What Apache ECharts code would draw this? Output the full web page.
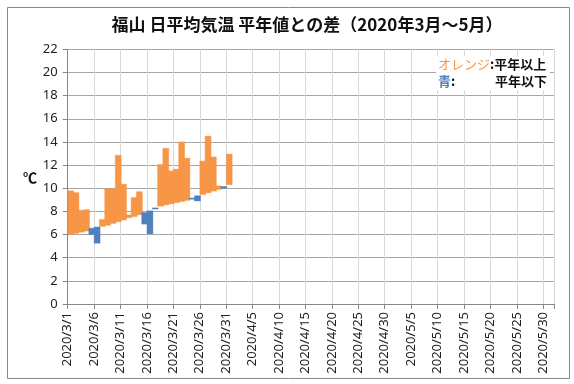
<!DOCTYPE html>
<html>
<head>
<meta charset="utf-8">
<script src="https://cdn.jsdelivr.net/npm/echarts@6/dist/echarts.min.js"></script>
<style>
html,body{margin:0;padding:0;background:#fff;}
#chart{width:574px;height:384px;}
</style>
</head>
<body>
<div id="chart"></div>
<script>
// Days with data (2020/3/1 .. 2020/3/31)
const days = ['2020/3/1','2020/3/2','2020/3/3','2020/3/4','2020/3/5','2020/3/6','2020/3/7','2020/3/8','2020/3/9','2020/3/10',
  '2020/3/11','2020/3/12','2020/3/13','2020/3/14','2020/3/15','2020/3/16','2020/3/17','2020/3/18','2020/3/19','2020/3/20',
  '2020/3/21','2020/3/22','2020/3/23','2020/3/24','2020/3/25','2020/3/26','2020/3/27','2020/3/28','2020/3/29','2020/3/30','2020/3/31'];
// Normal (平年値) daily mean temperature
const normal = [6.0, 6.1, 6.2, 6.3, 6.55, 6.65, 6.7, 6.8, 6.95, 7.1,
  7.25, 7.45, 7.55, 7.7, 7.9, 8.05, 8.3, 8.45, 8.55, 8.65,
  8.75, 8.85, 8.95, 9.15, 9.35, 9.45, 9.6, 9.75, 9.9, 10.15, 10.3];
// Actual daily mean temperature
const actual = [9.78, 9.62, 8.1, 8.15, 6.0, 5.25, 7.3, 9.95, 9.95, 12.85,
  10.35, 7.7, 9.2, 9.7, 6.9, 6.05, 8.2, 12.05, 13.45, 11.5,
  11.65, 14.0, 12.6, 9.05, 8.9, 12.35, 14.5, 12.7, 10.2, 10.0, 12.95];
// X tick labels (every 5 days, 2020/3/1 .. 2020/5/30); axis spans 92 days
const tickLabels = ['2020/3/1','2020/3/6','2020/3/11','2020/3/16','2020/3/21','2020/3/26','2020/3/31',
  '2020/4/5','2020/4/10','2020/4/15','2020/4/20','2020/4/25','2020/4/30',
  '2020/5/5','2020/5/10','2020/5/15','2020/5/20','2020/5/25','2020/5/30'];
const totalDays = 92;

const ORANGE = '#F79646';
const BLUE = '#4F81BD';

const chart = echarts.init(document.getElementById('chart'), null, {renderer: 'canvas'});
const data = days.map((d, i) => [i, normal[i], actual[i]]);

chart.setOption({
  animation: false,
  backgroundColor: '#fff',
  grid: {left: 67.7, right: 20.2, top: 49.3, bottom: 80, containLabel: false},
  xAxis: {
    type: 'value', min: 0, max: totalDays, interval: 5,
    axisLine: {show: true, onZero: false, lineStyle: {color: '#868686', width: 1}},
    axisTick: {show: true, length: 5, lineStyle: {color: '#868686'}},
    splitLine: {show: true, lineStyle: {color: '#D9D9D9', width: 1}},
    axisLabel: {
      rotate: 90, margin: 8, color: '#222', fontSize: 13, fontFamily: 'Noto Sans',
      formatter: v => (v % 5 === 0 && tickLabels[v / 5]) ? tickLabels[v / 5] : ''
    }
  },
  yAxis: {
    type: 'value', min: 0, max: 22, interval: 2,
    axisLine: {show: true, lineStyle: {color: '#868686', width: 1}},
    axisTick: {show: true, length: 5, lineStyle: {color: '#868686'}},
    splitLine: {show: true, lineStyle: {color: '#A6A6A6', width: 1}},
    axisLabel: {margin: 10, color: '#222', fontSize: 13, fontFamily: 'Noto Sans'}
  },
  series: [{
    type: 'custom',
    data: data,
    encode: {x: 0, y: [1, 2]},
    renderItem: function (params, api) {
      const i = api.value(0), n = api.value(1), a = api.value(2);
      const p1 = api.coord([i, Math.max(n, a)]);
      const p2 = api.coord([i + 1, Math.min(n, a)]);
      const c = a >= n ? ORANGE : BLUE;
      return {
        type: 'rect',
        shape: {x: p1[0], y: p1[1], width: p2[0] - p1[0] + 0.7, height: p2[1] - p1[1]},
        style: {fill: c, stroke: c, lineWidth: 0.4}
      };
    }
  }],
  graphic: [
    {type: 'rect', left: 5, top: 5, shape: {x: 0.5, y: 0.5, width: 562, height: 371},
     style: {fill: null, stroke: '#888', lineWidth: 1}, silent: true, z: 100},
    {type: 'text', x: 307, y: 25, style: {text: '福山 日平均気温 平年値との差（2020年3月～5月）',
      font: 'bold 17px "Noto Sans CJK JP"', fill: '#111', textAlign: 'center', textVerticalAlign: 'middle'}},
    {type: 'text', x: 30, y: 178, style: {text: '℃', font: 'bold 14px "Noto Sans CJK JP"', fill: '#111',
      textAlign: 'center', textVerticalAlign: 'middle'}},
    {type: 'rect', shape: {x: 436, y: 56, width: 114, height: 34}, style: {fill: '#fff'}, z: 50},
    {type: 'text', x: 438, y: 64, z: 60, style: {
      text: '{o|オレンジ}{k|:平年以上}', textVerticalAlign: 'middle',
      rich: {o: {fill: ORANGE, font: '13px "Noto Sans CJK JP"'}, k: {fill: '#111', font: 'bold 13px "Noto Sans CJK JP"'}}}},
    {type: 'text', x: 438, y: 81, z: 60, style: {
      text: '{b|青}{k|:}', textVerticalAlign: 'middle',
      rich: {b: {fill: BLUE, font: 'bold 13px "Noto Sans CJK JP"'}, k: {fill: '#111', font: 'bold 13px "Noto Sans CJK JP"'}}}},
    {type: 'text', x: 547, y: 81, z: 60, style: {
      text: '平年以下', textAlign: 'right', textVerticalAlign: 'middle',
      font: 'bold 13px "Noto Sans CJK JP"', fill: '#111'}}
  ]
});
</script>
</body>
</html>
